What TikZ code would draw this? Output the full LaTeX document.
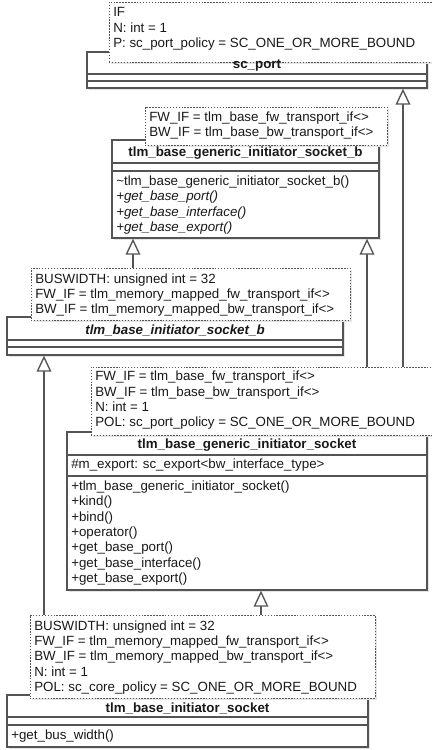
\documentclass[tikz,border=0pt]{standalone}
\usepackage{fontspec}
\setmainfont{Liberation Sans}
\usetikzlibrary{arrows.meta,fit,shadows}
\definecolor{umlline}{gray}{0.33}
\definecolor{umltext}{gray}{0.10}
\definecolor{umlshadow}{gray}{0.90}
\tikzset{
	classbox/.style={draw=umlline, line width=1pt, fill=white, inner sep=0pt,
		drop shadow={shadow xshift=1.8pt, shadow yshift=-1.8pt, fill=umlshadow, opacity=1}},
	parambox/.style={draw=umlline, line width=0.6pt, dash pattern=on 1.1pt off 1.1pt, fill=white, inner sep=0pt,
		drop shadow={shadow xshift=1.5pt, shadow yshift=-1.5pt, fill=umlshadow, opacity=1}},
	umltxt/.style={inner sep=0pt, text=umltext, align=left, font=\fontsize{10pt}{11.5pt}\selectfont},
	classname/.style={umltxt, font=\fontsize{10pt}{11.5pt}\selectfont\bfseries},
	compsep/.style={draw=umlline, line width=1pt},
	inherits/.style={draw=umlline, line width=1pt, -{Triangle[open, length=12pt, width=11pt, fill=white]}}
}

\begin{document}
\begin{tikzpicture}[x=0.75pt, y=-0.75pt]
	%%%%% START %%%%%
	\useasboundingbox (0,0) rectangle (432,750);
	\clip (0,0) rectangle (432,750);
	
	% sc_port
	\node[classbox, fit={(87,52) (427,88)}] (scport) {};
	\draw[compsep] (scport.west |- 0,74) -- (scport.east |- 0,74);
	\draw[compsep] (scport.west |- 0,81) -- (scport.east |- 0,81);
	\node[parambox, fit={(109,2) (434,62)}] (scportT) {};
	\node[umltxt, anchor=west] (scportparams) at (113,29) {IF\\N: int = 1\\P: sc\_port\_policy = SC\_ONE\_OR\_MORE\_BOUND};
	\node[classname] (scportname) at (257,66) {sc\_port};
	
	% tlm_base_generic_initiator_socket_b
	\node[classbox, fit={(112,140) (379,238)}] (gsb) {};
	\draw[compsep] (gsb.west |- 0,163) -- (gsb.east |- 0,163);
	\draw[compsep] (gsb.west |- 0,171) -- (gsb.east |- 0,171);
	\node[parambox, fit={(145,107) (387,145)}] (gsbT) {};
	\node[umltxt, anchor=west] (gsbparams) at (149,125.5) {FW\_IF = tlm\_base\_fw\_transport\_if<>\\BW\_IF = tlm\_base\_bw\_transport\_if<>};
	\node[classname] (gsbname) at (245.5,153) {tlm\_base\_generic\_initiator\_socket\_b};
	\node[umltxt, anchor=west] (gsbops) at (116,205) {\textasciitilde tlm\_base\_generic\_initiator\_socket\_b()\\
		\textit{+get\_base\_port()}\\\textit{+get\_base\_interface()}\\\textit{+get\_base\_export()}};
	
	% tlm_base_initiator_socket_b
	\node[classbox, fit={(7,317) (343,355)}] (isb) {};
	\draw[compsep] (isb.west |- 0,340) -- (isb.east |- 0,340);
	\draw[compsep] (isb.west |- 0,347) -- (isb.east |- 0,347);
	\node[parambox, fit={(31,268) (350,320)}] (isbT) {};
	\node[umltxt, anchor=west] (isbparams) at (35,295) {BUSWIDTH: unsigned int = 32\\FW\_IF = tlm\_memory\_mapped\_fw\_transport\_if<>\\BW\_IF = tlm\_memory\_mapped\_bw\_transport\_if<>};
	\node[classname, font=\fontsize{10pt}{11.5pt}\selectfont\bfseries\itshape] (isbname) at (175,330) {tlm\_base\_initiator\_socket\_b};
	
	% tlm_base_generic_initiator_socket
	\node[classbox, fit={(67,432) (427,590)}] (gs) {};
	\draw[compsep] (gs.west |- 0,455) -- (gs.east |- 0,455);
	\draw[compsep] (gs.west |- 0,476) -- (gs.east |- 0,476);
	\node[parambox, fit={(91,367) (434,435)}] (gsT) {};
	\node[umltxt, anchor=west] (gsparams) at (95,400.5) {FW\_IF = tlm\_base\_fw\_transport\_if<>\\BW\_IF = tlm\_base\_bw\_transport\_if<>\\N: int = 1\\POL: sc\_port\_policy = SC\_ONE\_OR\_MORE\_BOUND};
	\node[classname] (gsname) at (247,445) {tlm\_base\_generic\_initiator\_socket};
	\node[umltxt, anchor=west] (gsattr) at (71,465.5) {\#m\_export: sc\_export<bw\_interface\_type>};
	\node[umltxt, anchor=west] (gsops) at (71,533) {+tlm\_base\_generic\_initiator\_socket()\\+kind()\\+bind()\\+operator()\\
		+get\_base\_port()\\+get\_base\_interface()\\+get\_base\_export()};
	
	% tlm_base_initiator_socket
	\node[classbox, fit={(7,695) (368,747)}] (is) {};
	\draw[compsep] (is.west |- 0,717) -- (is.east |- 0,717);
	\draw[compsep] (is.west |- 0,725) -- (is.east |- 0,725);
	\node[parambox, fit={(30,615) (375,698)}] (isT) {};
	\node[umltxt, anchor=west] (isparams) at (34,657.5) {BUSWIDTH: unsigned int = 32\\FW\_IF = tlm\_memory\_mapped\_fw\_transport\_if<>\\BW\_IF = tlm\_memory\_mapped\_bw\_transport\_if<>\\N: int = 1\\POL: sc\_core\_policy = SC\_ONE\_OR\_MORE\_BOUND};
	\node[classname] (isname) at (187.5,708) {tlm\_base\_initiator\_socket};
	\node[umltxt, anchor=west] (isops) at (11,736) {+get\_bus\_width()};
	
	% generalisations
	\draw[inherits] (isbT.north -| 133,0) -- (gsb.south -| 133,0);
	\draw[inherits] (gsT.north -| 367,0) -- (gsb.south -| 367,0);
	\draw[inherits] (gsT.north -| 403,0) -- (scport.south -| 403,0);
	\draw[inherits] (isT.north -| 44,0) -- (isb.south -| 44,0);
	\draw[inherits] (isT.north -| 261,0) -- (gs.south -| 261,0);
	
	%%%%% END %%%%%
\end{tikzpicture}
\end{document}
